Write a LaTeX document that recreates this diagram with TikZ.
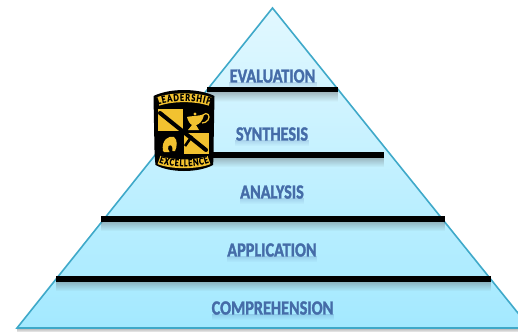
\documentclass[tikz,border=0pt]{standalone}
\usepackage{fontspec}
\setmainfont{Carlito}
\newfontface\lvlfont[FakeBold=1.6,FakeStretch=0.81]{Carlito Bold}
\newfontface\badgefont[FakeBold=0.6,FakeStretch=0.8]{Carlito Bold}
\usetikzlibrary{shadings,decorations.text,fadings}
\definecolor{edgeblue}{HTML}{3FA9C9}
\definecolor{labelblue}{HTML}{456CA8}
\definecolor{shieldyellow}{HTML}{F2C230}
\tikzfading[name=fadedown,top color=transparent!35,bottom color=transparent!100]
\tikzset{
  x=0.75pt,y=-0.75pt,
  divider/.style={line width=3.9pt,black},
  lvl/.style={font=\lvlfont\fontsize{15}{16}\selectfont,text=labelblue,inner sep=0pt,anchor=center},
  banner/.style={line width=6.6pt,shieldyellow},
}
\newcommand{\levellabel}[4]{%
  \fill[labelblue,path fading=fadedown,opacity=.35] (#1-#3,#2+6) rectangle (#1+#3,#2+12);
  \node[lvl] (#4) at (#1,#2) {#4};}
\newcommand{\dividerline}[4]{%
  \coordinate (#4a) at (#1,#3); \coordinate (#4b) at (#2,#3);
  \fill[black!70,path fading=fadedown,opacity=.7] (#1,#3) rectangle (#2,#3+12);
  \draw[divider] (#4a) -- (#4b);}
\begin{document}
\begin{tikzpicture}
\useasboundingbox (0,0) rectangle (518,332);
\clip (0,0) rectangle (518,332);
\fill[white] (0,0) rectangle (518,332);
% base shadow
\fill[black!45,path fading=fadedown] (17,328) rectangle (518,333);
% pyramid
\coordinate (apex) at (272.5,8);
\coordinate (bl) at (17,328);
\coordinate (br) at (530,328);
\shade[top color={rgb,255:red,226;green,248;blue,255},bottom color={rgb,255:red,163;green,233;blue,255}] (apex) -- (bl) -- (br) -- cycle;
\draw[edgeblue,line width=1.2pt,line join=miter] (apex) -- (bl) -- (br) -- cycle;
% dividers
\dividerline{207}{338}{89.5}{d1}
\dividerline{170}{384}{155}{d2}
\dividerline{101}{445}{219}{d3}
\dividerline{56}{491}{279}{d4}
% labels
\levellabel{272.5}{76}{44}{EVALUATION}
\levellabel{272}{134}{37}{SYNTHESIS}
\levellabel{272}{192}{32}{ANALYSIS}
\levellabel{272}{250}{45}{APPLICATION}
\levellabel{272.5}{308}{61}{COMPREHENSION}
% shield
\fill[black] (153.5,96) .. controls (170,88) and (198,88) .. (214.5,96) -- (213.5,150) .. controls (213.5,160) and (213.5,162) .. (213,165)
   .. controls (198,173) and (170,173) .. (155.5,165) .. controls (155,160) and (154.5,155) .. (154.5,150) -- cycle;
% banners
\draw[banner] (158,101.5) .. controls (172,96.5) and (196,96.5) .. (210,101.5);
\draw[banner] (159,160) .. controls (172,165) and (196,165) .. (209,160);
\path[decorate,decoration={text along path,text align={fit to path},
  text={|\badgefont\fontsize{8}{8}\selectfont\color{black}|LEADERSHIP}}] (158,104.5) .. controls (172,99.5) and (196,99.5) .. (210,104.5);
\path[decorate,decoration={text along path,text align={fit to path},
  text={|\badgefont\fontsize{8}{8}\selectfont\color{black}|EXCELLENCE}}] (159,162.5) .. controls (172,167.5) and (196,167.5) .. (209,162.5);
% panels
\fill[shieldyellow] (158,109) -- (183,109) -- (183,131) -- (158,131) -- cycle;
\fill[shieldyellow] (184,133) -- (209,133) -- (209,154) -- (184,154) -- cycle;
% sword
\draw[black,line width=3pt,line cap=round] (160,113) -- (206,150);
\draw[black,line width=2pt] (192,136) -- (185,146);
% lamp
\fill[shieldyellow] (187,117) .. controls (190,116) and (201,116) .. (204,114) .. controls (203,122) and (198,125) .. (196,125)
  -- (199,130) -- (188,130) -- (192,125) .. controls (190,124) and (188,121) .. (187,117) -- cycle;
\draw[shieldyellow,line width=.9pt] (203,115) .. controls (207,111) and (211,116) .. (208,120) .. controls (207,122) and (204,123) .. (202,123);
\fill[shieldyellow] (195,114) circle (1.6);
% helmet
\fill[shieldyellow] (163,151) .. controls (161,140) and (169,135) .. (174,137) .. controls (178,140) and (177,147) .. (175,151)
  -- (172.5,151) .. controls (173,146) and (171,144) .. (168.5,146) .. controls (167.5,148) and (168,150) .. (169.5,152) -- (164,152) -- cycle;
\end{tikzpicture}
\end{document}
